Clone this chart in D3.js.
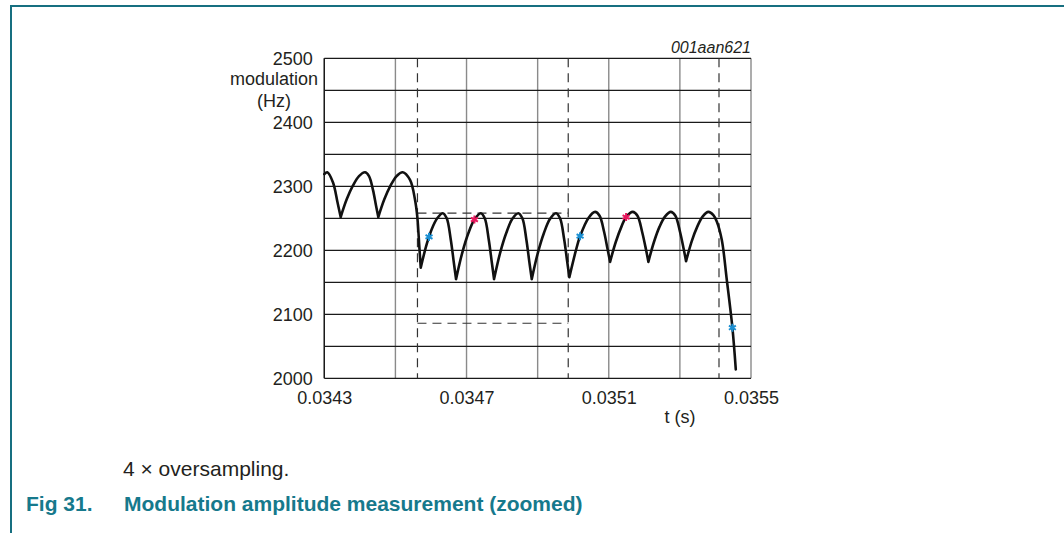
<!DOCTYPE html>
<meta charset="utf-8">
<style>
body { margin: 0; background: #fff; }
svg { display: block; font-family: "Liberation Sans", Arial, Helvetica, sans-serif; }
.tick text { fill: #231f20; font-size: 18px; }
.grid-h line { stroke: #1a1a1a; stroke-width: 1.2; }
.grid-v line { stroke: #8a8a8a; stroke-width: 1.4; }
.dash { stroke: #333; stroke-width: 1.2; stroke-dasharray: 9,6; fill: none; }
.curve { fill: none; stroke: #111; stroke-width: 2.6; stroke-linejoin: round; stroke-linecap: round; }
</style>
<body>
<script src="https://cdn.jsdelivr.net/npm/d3@7"></script>
<script>

// time (s) and modulation (Hz)
var times = [
  0.0343000, 0.0343084, 0.0343245, 0.0343371, 0.0343461, 0.0343633, 0.0343804, 0.0343976,
  0.0344145, 0.0344257, 0.0344370, 0.0344454, 0.0344519, 0.0344691, 0.0344862, 0.0345034,
  0.0345205, 0.0345411, 0.0345551, 0.0345616, 0.0345672, 0.0345712, 0.0345866, 0.0345945,
  0.0346021, 0.0346176, 0.0346331, 0.0346443, 0.0346556, 0.0346640, 0.0346705, 0.0346879,
  0.0347053, 0.0347222, 0.0347399, 0.0347512, 0.0347624, 0.0347709, 0.0347774, 0.0347945,
  0.0348117, 0.0348285, 0.0348457, 0.0348570, 0.0348682, 0.0348766, 0.0348834, 0.0349006,
  0.0349177, 0.0349346, 0.0349518, 0.0349630, 0.0349743, 0.0349827, 0.0349892, 0.0350072,
  0.0350193, 0.0350435, 0.0350615, 0.0350741, 0.0350868, 0.0350966, 0.0351037, 0.0351197,
  0.0351357, 0.0351487, 0.0351675, 0.0351807, 0.0351937, 0.0352044, 0.0352114, 0.0352271,
  0.0352429, 0.0352586, 0.0352744, 0.0352873, 0.0353003, 0.0353107, 0.0353174, 0.0353332,
  0.0353489, 0.0353644, 0.0353802, 0.0353942, 0.0354038, 0.0354179, 0.0354319, 0.0354477,
  0.0354572
];
var modulation = [
  2319, 2322, 2306, 2275, 2252, 2280, 2301, 2316,
  2322, 2316, 2294, 2270, 2252, 2280, 2301, 2316,
  2322, 2310, 2279, 2252, 2206, 2173, 2207, 2221,
  2233, 2250, 2258, 2250, 2217, 2182, 2155, 2196,
  2227, 2248, 2258, 2250, 2217, 2182, 2155, 2196,
  2227, 2249, 2258, 2250, 2217, 2182, 2155, 2196,
  2227, 2249, 2258, 2250, 2218, 2184, 2158, 2199,
  2222, 2251, 2260, 2254, 2229, 2202, 2182, 2213,
  2237, 2252, 2260, 2254, 2229, 2202, 2182, 2213,
  2237, 2253, 2260, 2254, 2229, 2202, 2183, 2214,
  2237, 2253, 2260, 2255, 2245, 2216, 2154, 2079,
  2014
];

// sample markers
var blueMarks = [[0.0345945, 2221], [0.0350193, 2222], [0.0354477, 2079]];
var redMarks = [[0.0347222, 2248], [0.0351487, 2252]];

// dashed measurement window
var dashTimes = [0.034562, 0.034986, 0.035410];
var dashLevels = [2258, 2086];

var xGrid = [0.0343, 0.0345, 0.0347, 0.0349, 0.0351, 0.0353, 0.0355];
var xLabels = [0.0343, 0.0347, 0.0351, 0.0355];
var yGrid = [2000, 2050, 2100, 2150, 2200, 2250, 2300, 2350, 2400, 2450, 2500];
var yLabels = [2000, 2100, 2200, 2300, 2400, 2500];

var W = 1064, H = 533;
var plot = {left: 324.3, right: 751, top: 58.3, bottom: 378.3};

var svg = d3.select("body").append("svg")
    .attr("width", W)
    .attr("height", H);

var x = d3.scaleLinear().domain([0.0343, 0.0355]).range([plot.left, plot.right]);
var y = d3.scaleLinear().domain([2000, 2500]).range([plot.bottom, plot.top]);

// page frame
svg.append("path")
    .attr("d", "M11,533 V6 H1064")
    .attr("fill", "none")
    .attr("stroke", "#176f80")
    .attr("stroke-width", 2);

// grid
svg.append("g").attr("class", "grid-v")
  .selectAll("line").data(xGrid).enter().append("line")
    .attr("x1", d => x(d)).attr("x2", d => x(d))
    .attr("y1", plot.top).attr("y2", plot.bottom);

svg.append("g").attr("class", "grid-h")
  .selectAll("line").data(yGrid).enter().append("line")
    .attr("x1", plot.left).attr("x2", plot.right)
    .attr("y1", d => y(d)).attr("y2", d => y(d));

svg.append("line")
    .attr("x1", plot.left).attr("x2", plot.left)
    .attr("y1", plot.top).attr("y2", plot.bottom)
    .attr("stroke", "#1a1a1a").attr("stroke-width", 1.4);

// axes (labels only)
var yAxis = svg.append("g")
    .attr("transform", "translate(" + plot.left + ",0)")
    .call(d3.axisLeft(y).tickValues(yLabels).tickSize(0).tickPadding(11.5).tickFormat(d3.format("d")));
yAxis.select(".domain").remove();

var xAxis = svg.append("g")
    .attr("transform", "translate(0," + plot.bottom + ")")
    .call(d3.axisBottom(x).tickValues(xLabels).tickSize(0).tickPadding(13).tickFormat(d3.format(".4f")));
xAxis.select(".domain").remove();

// dashed window
dashTimes.forEach(function(t) {
  svg.append("line").attr("class", "dash")
      .attr("x1", x(t)).attr("x2", x(t))
      .attr("y1", plot.top).attr("y2", plot.bottom);
});
dashLevels.forEach(function(v) {
  svg.append("line").attr("class", "dash")
      .attr("x1", x(dashTimes[0])).attr("x2", x(dashTimes[1]))
      .attr("y1", y(v)).attr("y2", y(v));
});

// trace: split at the sharp minima so the cusps stay pointed
var pts = times.map((t, i) => [t, modulation[i]]);
var segs = [], cur = [pts[0]];
for (var i = 1; i < pts.length; i++) {
  cur.push(pts[i]);
  if (i < pts.length - 1 && pts[i][1] < pts[i - 1][1] && pts[i][1] < pts[i + 1][1]) {
    segs.push(cur);
    cur = [pts[i]];
  }
}
segs.push(cur);

var line = d3.line()
    .x(d => x(d[0]))
    .y(d => y(d[1]))
    .curve(d3.curveCatmullRom.alpha(0.5));

svg.append("path")
    .attr("class", "curve")
    .attr("d", segs.map(s => line(s)).join(""));

// markers
var star = d3.symbol().type(d3.symbolAsterisk || d3.symbolCross).size(45);
svg.selectAll(".bm").data(blueMarks).enter().append("path")
    .attr("transform", d => "translate(" + x(d[0]) + "," + y(d[1]) + ")")
    .attr("d", star)
    .attr("fill", "none").attr("stroke", "#1b8fd2").attr("stroke-width", 2);
svg.selectAll(".rm").data(redMarks).enter().append("path")
    .attr("transform", d => "translate(" + x(d[0]) + "," + y(d[1]) + ")")
    .attr("d", star)
    .attr("fill", "none").attr("stroke", "#e8175d").attr("stroke-width", 2);

// texts
svg.append("text")
    .attr("x", plot.right).attr("y", 52.5)
    .attr("text-anchor", "end")
    .style("font-size", "16px").style("font-style", "italic").style("fill", "#231f20")
    .text("001aan621");

svg.append("text")
    .attr("x", 274).attr("y", 85)
    .attr("text-anchor", "middle")
    .style("font-size", "18px").style("fill", "#231f20")
    .text("modulation");
svg.append("text")
    .attr("x", 274).attr("y", 107)
    .attr("text-anchor", "middle")
    .style("font-size", "18px").style("fill", "#231f20")
    .text("(Hz)");

svg.append("text")
    .attr("x", 680).attr("y", 423)
    .attr("text-anchor", "middle")
    .style("font-size", "18px").style("fill", "#231f20")
    .text("t (s)");

svg.append("text")
    .attr("x", 123).attr("y", 476)
    .style("font-size", "21px").style("fill", "#231f20")
    .text("4 \u00d7 oversampling.");

svg.append("text")
    .attr("x", 26).attr("y", 511)
    .style("font-size", "21px").style("font-weight", "bold").style("fill", "#16798c")
    .text("Fig 31.");
svg.append("text")
    .attr("x", 124).attr("y", 511)
    .style("font-size", "21px").style("font-weight", "bold").style("fill", "#16798c")
    .text("Modulation amplitude measurement (zoomed)");

</script>
</body>
